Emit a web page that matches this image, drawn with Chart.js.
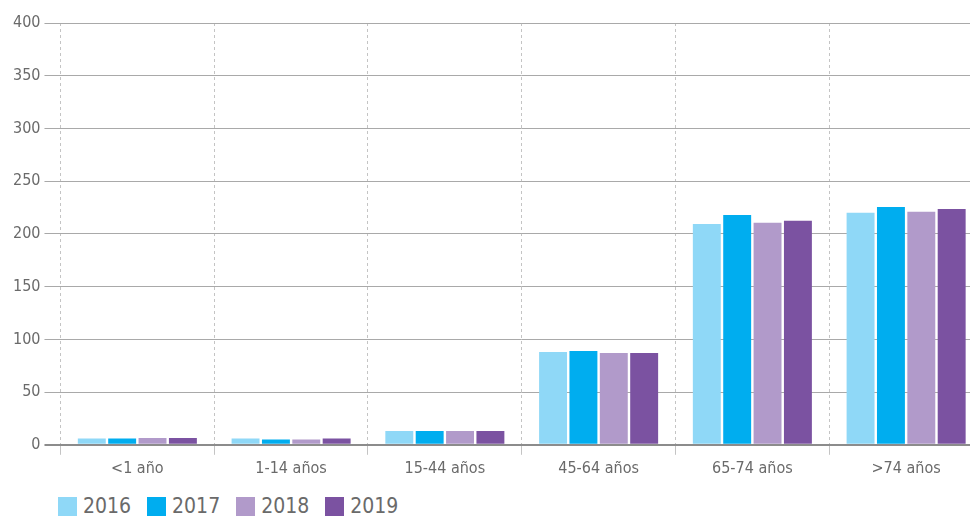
<!DOCTYPE html>
<html>
<head>
<meta charset="utf-8">
<script src="https://cdn.jsdelivr.net/npm/chart.js@4"></script>
<style>
  html, body { margin: 0; padding: 0; background: #fff; overflow: hidden; }
  #wrap { position: relative; width: 990px; height: 516px; }
  #chartBox { position: absolute; left: 0; top: 0; width: 990px; height: 486px; }
  #legend { position: absolute; left: 58px; top: 496px; display: flex; font-family: "DejaVu Sans Condensed", "DejaVu Sans", sans-serif; font-size: 21px; color: #6a6a6a; line-height: 21px; }
  #legend .item { display: flex; align-items: center; margin-right: 16px; }
  #legend .box { width: 19px; height: 19px; margin-right: 6px; }
</style>
</head>
<body>
<div id="wrap">
  <div id="chartBox"><canvas id="myChart"></canvas></div>
  <div id="legend"></div>
</div>
<script>
// categories and series
const categories = ['<1 año', '1-14 años', '15-44 años', '45-64 años', '65-74 años', '>74 años'];
const years = ['2016', '2017', '2018', '2019'];
const values2016 = [6, 6, 13, 88, 209.5, 220];
const values2017 = [6, 5, 13, 89, 218, 225.5];
const values2018 = [6.5, 5, 13, 87, 210.5, 221];
const values2019 = [6.5, 6, 13, 87, 212.5, 223.5];
const colors = ['#8fd8f7', '#00adef', '#b19aca', '#7b52a1'];
const yTicks = [0, 50, 100, 150, 200, 250, 300, 350, 400];

const textGray = '#6a6a6a';
const tickFont = { family: '"DejaVu Sans Condensed", "DejaVu Sans", sans-serif', size: 16 };

const allValues = [values2016, values2017, values2018, values2019];
const datasets = years.map((y, i) => ({
    label: y,
    data: allValues[i],
    backgroundColor: colors[i],
    borderWidth: 0,
    categoryPercentage: 0.79,
    barPercentage: 0.92
}));

const ctx = document.getElementById('myChart').getContext('2d');
const chart = new Chart(ctx, {
    type: 'bar',
    data: { labels: categories, datasets: datasets },
    options: {
        responsive: true,
        maintainAspectRatio: false,
        animation: false,
        layout: { padding: { top: 23, left: 9, right: 7, bottom: 4 } },
        plugins: {
            legend: { display: false },
            tooltip: { enabled: false }
        },
        scales: {
            x: {
                grid: {
                    offset: true,
                    color: '#c4c4c4',
                    lineWidth: 1,
                    tickLength: 10,
                    drawTicks: true
                },
                border: { display: false, dash: [3, 3] },
                ticks: { color: textGray, font: tickFont, padding: 4 }
            },
            y: {
                min: 0,
                max: 400,
                afterBuildTicks: (axis) => { axis.ticks = yTicks.map(v => ({ value: v })); },
                grid: {
                    color: (c) => c.tick && c.tick.value === 0 ? '#8c8c8c' : '#a9a9a9',
                    lineWidth: (c) => c.tick && c.tick.value === 0 ? 2 : 1,
                    tickLength: 16
                },
                border: { display: false },
                ticks: { color: textGray, font: tickFont, padding: 4 }
            }
        }
    }
});

//html legend
const legend = document.getElementById('legend');
chart.data.datasets.forEach((ds) => {
    const item = document.createElement('div');
    item.className = 'item';
    const box = document.createElement('span');
    box.className = 'box';
    box.style.background = ds.backgroundColor;
    const txt = document.createElement('span');
    txt.textContent = ds.label;
    item.appendChild(box);
    item.appendChild(txt);
    legend.appendChild(item);
});
</script>
</body>
</html>
